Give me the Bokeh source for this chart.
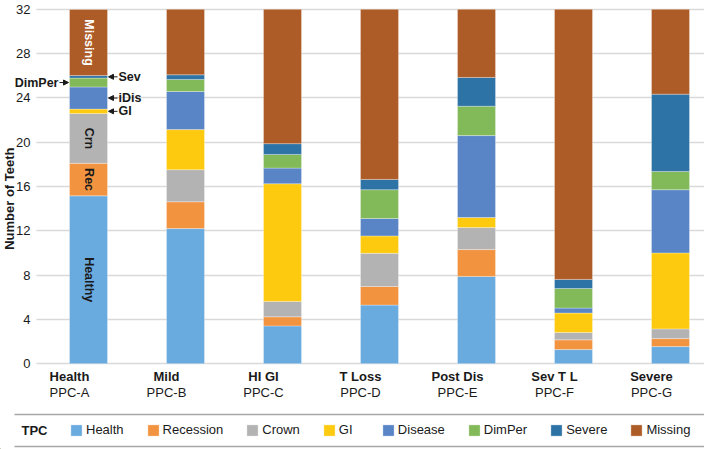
import math
from bokeh.plotting import figure
from bokeh.models import (ColumnDataSource, FixedTicker, LinearAxis, Label, Arrow,
                          NormalHead, Legend, LegendItem, Range1d)
from bokeh.layouts import column
from bokeh.embed import file_html
from bokeh.resources import INLINE
from bokeh.core.properties import value

# ---------------- data ----------------
groups = ["Health", "Mild", "HI GI", "T Loss", "Post Dis", "Sev T L", "Severe"]
ppc_labels = ["PPC-A", "PPC-B", "PPC-C", "PPC-D", "PPC-E", "PPC-F", "PPC-G"]
tpc_names = ["Health", "Recession", "Crown", "GI", "Disease", "DimPer", "Severe", "Missing"]
tpc_keys = ["health", "recession", "crown", "gi", "disease", "dimper", "severe", "missing"]
colors = ["#6aabdf", "#f29340", "#b3b3b3", "#fdca10", "#5985c6", "#82ba59", "#2e73a6", "#ad5c27"]

health    = [15.16, 12.20, 3.41, 5.29, 7.88, 1.27, 1.54]
recession = [2.93, 2.42, 0.82, 1.68, 2.42, 0.88, 0.72]
crown     = [4.50, 2.90, 1.39, 2.99, 1.99, 0.66, 0.88]
gi        = [0.40, 3.62, 10.63, 1.58, 0.91, 1.76, 6.86]
disease   = [2.00, 3.44, 1.41, 1.57, 7.40, 0.45, 5.71]
dimper    = [0.80, 1.09, 1.24, 2.60, 2.65, 1.77, 1.65]
severe    = [0.23, 0.42, 0.97, 0.93, 2.60, 0.82, 6.98]
missing   = [5.97, 5.91, 12.13, 15.36, 6.15, 24.39, 7.66]

y_ticks = [0, 4, 8, 12, 16, 20, 24, 28, 32]
y_title = "Number of Teeth"

# labels written inside the first bar (segment index, text, colour)
inbar_labels = [(0, "Healthy", "#1a1a1a"), (1, "Rec", "#1a1a1a"), (2, "Crn", "#1a1a1a"), (7, "Missing", "#ffffff")]
# callouts on the first bar (segment index, text, side)
callouts = [(6, "Sev", "right"), (4, "iDis", "right"), (3, "GI", "right"), (5, "DimPer", "left")]

FONT = "Liberation Sans"
TXT = "#1a1a1a"
BAR_W = 0.392
W = 704
PX = 97.0                      # pixels per category
X0 = -88.0 / PX                # left edge of the frame (data units)
X1 = X0 + W / PX
PLOT_LEFT = X0 + 36.0 / PX     # where the plot area (grid lines) begins
AXIS_AT = X0 + 35.0 / PX       # where the y tick labels end
PAD = 0.8                      # room above/below the value range for tick labels

series = [health, recession, crown, gi, disease, dimper, severe, missing]
xs = list(range(len(groups)))
data = {"x": xs}
for k, s in zip(tpc_keys, series):
    data[k] = s
source = ColumnDataSource(data)

H1 = 412
p = figure(width=W, height=H1, x_range=Range1d(X0, X1),
           y_range=Range1d(y_ticks[0] - PAD, y_ticks[-1] + PAD),
           output_backend="svg", toolbar_location=None,
           min_border_top=0, min_border_left=0, min_border_right=0, min_border_bottom=40)
p.outline_line_color = None
p.background_fill_color = "white"
p.border_fill_color = "white"

p.vbar_stack(tpc_keys, x="x", width=BAR_W, source=source, fill_color=colors,
             line_color="white", line_alpha=0.3, line_width=1)

# grid / y axis
p.xgrid.visible = False
p.ygrid.ticker = FixedTicker(ticks=y_ticks)
p.ygrid.grid_line_color = "#d9d9d9"
p.ygrid.grid_line_width = 1.5
p.ygrid.cross_bounds = (PLOT_LEFT, X1)
ya = p.yaxis[0]
ya.fixed_location = AXIS_AT
ya.ticker = FixedTicker(ticks=y_ticks)
ya.axis_line_color = None
ya.major_tick_line_color = None
ya.minor_tick_line_color = None
ya.major_tick_out = 0
ya.major_tick_in = 0
ya.minor_tick_out = 0
ya.major_label_text_font = FONT
ya.major_label_text_font_size = "13px"
ya.major_label_text_color = TXT
ya.major_label_standoff = 5

# y axis title, placed like the reference (slightly below the plot centre)
p.add_layout(Label(x=X0 + 8.5 / PX, y=14.9, text=y_title, angle=math.pi / 2,
                   text_align="center", text_baseline="middle", text_font=FONT,
                   text_font_size="13px", text_font_style="bold", text_color=TXT))

# x axes: bold group names, then PPC labels, left-aligned at bar's left edge
label_pos = [x - BAR_W / 2 for x in xs]


def style_x(ax, bold, standoff):
    ax.major_label_text_align = "left"
    ax.major_label_text_font = FONT
    ax.major_label_text_font_size = "13px"
    ax.major_label_text_font_style = "bold" if bold else "normal"
    ax.major_label_text_color = TXT
    ax.axis_line_color = None
    ax.major_tick_line_color = None
    ax.minor_tick_line_color = None
    ax.major_tick_out = 0
    ax.major_tick_in = 0
    ax.minor_tick_out = 0
    ax.major_label_standoff = standoff


xa = p.xaxis[0]
xa.ticker = FixedTicker(ticks=label_pos)
xa.major_label_overrides = {pos: g for pos, g in zip(label_pos, groups)}
style_x(xa, True, -4)

xa2 = LinearAxis(ticker=FixedTicker(ticks=label_pos),
                 major_label_overrides={pos: g for pos, g in zip(label_pos, ppc_labels)})
style_x(xa2, False, -2)
p.add_layout(xa2, "below")

# in-bar labels on the first bar
first = [s[0] for s in series]
bottoms = [sum(first[:i]) for i in range(len(first))]
mids = [b + v / 2 for b, v in zip(bottoms, first)]
p.text(x=[xs[0]] * len(inbar_labels), y=[mids[i] for i, _, _ in inbar_labels],
       text=[t for _, t, _ in inbar_labels], text_color=[c for _, _, c in inbar_labels],
       angle=-math.pi / 2, text_align="center", text_baseline="middle",
       text_font=value(FONT), text_font_size="12.5px", text_font_style="bold")

# callouts with arrows
px = 1.0 / PX
bar_right = xs[0] + BAR_W / 2
bar_left = xs[0] - BAR_W / 2
for idx, txt, side in callouts:
    yy = mids[idx]
    if side == "right":
        x0, x1 = bar_right + 10 * px, bar_right + 1 * px
        lab = Label(x=bar_right + 11 * px, y=yy, text=txt, text_align="left", text_baseline="middle")
    else:
        x0, x1 = bar_left - 10 * px, bar_left - 1 * px
        lab = Label(x=bar_left - 11 * px, y=yy, text=txt, text_align="right", text_baseline="middle")
    lab.text_font = FONT
    lab.text_font_size = "12.5px"
    lab.text_font_style = "bold"
    lab.text_color = TXT
    p.add_layout(lab)
    p.add_layout(Arrow(x_start=x0, y_start=yy, x_end=x1, y_end=yy, line_width=1, line_color=TXT,
                       end=NormalHead(size=5, fill_color=TXT, line_color=TXT)))

# ---------------- legend strip ----------------
H2 = 449 - H1
p2 = figure(width=W, height=H2, x_range=Range1d(0, W), y_range=Range1d(0, H2),
            output_backend="svg", toolbar_location=None, min_border=0)
p2.axis.visible = False
p2.grid.visible = False
p2.outline_line_color = None
p2.segment(x0=[14, 14], y0=[H2 - 2, H2 - 34], x1=[W, W], y1=[H2 - 2, H2 - 34],
           line_color="#a6a6a6", line_width=1.5)

items = []
for name, c in zip(tpc_names, colors):
    r = p2.vbar(x=[-1000], top=[1], width=1, fill_color=c, line_color="white", line_alpha=0.3)
    items.append(LegendItem(label=name, renderers=[r]))
leg = Legend(items=items, orientation="horizontal", location=(69, H2 - 18 - 7),
             glyph_width=14, glyph_height=14, label_height=14, label_standoff=3,
             spacing=22, padding=0, margin=0, border_line_color=None,
             background_fill_alpha=0, label_text_font=FONT, label_text_font_size="13px",
             label_text_color=TXT, label_text_baseline="middle")
p2.add_layout(leg)
p2.add_layout(Label(x=21, y=H2 - 18, text="TPC", text_font=FONT, text_font_size="13px",
                    text_font_style="bold", text_color=TXT, text_baseline="middle"))

layout = column(p, p2, spacing=0)
open("out.html", "w").write(file_html(layout, INLINE))
